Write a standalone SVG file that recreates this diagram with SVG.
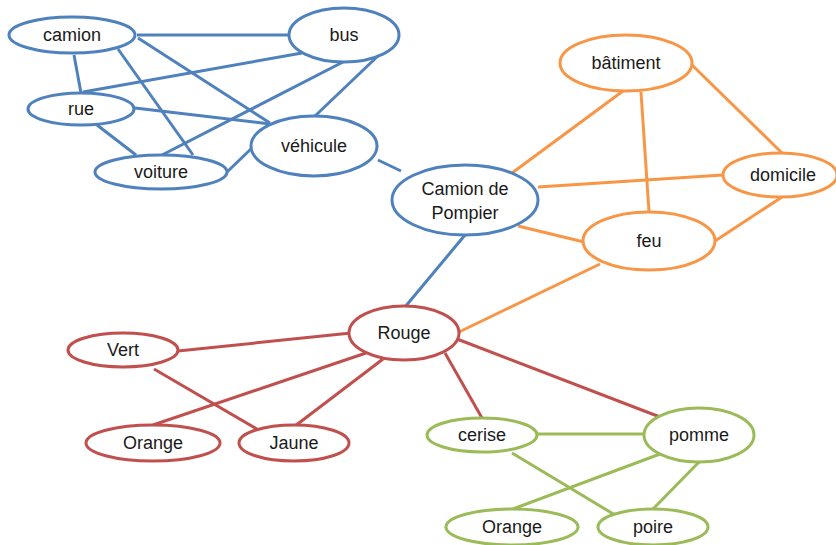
<svg xmlns="http://www.w3.org/2000/svg" width="836" height="545" viewBox="0 0 836 545">
<style>
.n ellipse{fill:#fff;stroke-width:3}
.b ellipse{stroke:#4F81BD}
.o ellipse{stroke:#F79646}
.r ellipse{stroke:#C0504D}
.g ellipse{stroke:#9BBB59}
text{font-family:"Liberation Sans",Arial,sans-serif;font-size:18px;fill:#1a1a1a;text-anchor:middle}
#edges line{stroke-width:3}
.eb{stroke:#4F81BD}.eo{stroke:#F79646}.er{stroke:#C0504D}.eg{stroke:#9BBB59}
</style>
<rect width="836" height="545" fill="#fff"/>
<g id="edges">
<line class="eb" x1="137" y1="35" x2="289" y2="35"/>
<line class="eb" x1="74" y1="55" x2="81" y2="93"/>
<line class="eb" x1="118" y1="49" x2="193" y2="155"/>
<line class="eb" x1="138" y1="38" x2="270" y2="123"/>
<line class="eb" x1="302" y1="53" x2="83" y2="92"/>
<line class="eb" x1="343" y1="62" x2="162" y2="155"/>
<line class="eb" x1="380" y1="54" x2="315" y2="116"/>
<line class="eb" x1="135" y1="108" x2="270" y2="124"/>
<line class="eb" x1="97" y1="125" x2="136" y2="155"/>
<line class="eb" x1="227" y1="172" x2="253" y2="147"/>
<line class="eb" x1="378" y1="160" x2="401" y2="171"/>
<line class="eb" x1="465" y1="235" x2="405" y2="307"/>
<line class="eo" x1="512" y1="173" x2="623" y2="91"/>
<line class="eo" x1="641" y1="92" x2="649" y2="212"/>
<line class="eo" x1="692" y1="65" x2="782" y2="153"/>
<line class="eo" x1="538" y1="187" x2="723" y2="175"/>
<line class="eo" x1="518" y1="226" x2="584" y2="242"/>
<line class="eo" x1="715" y1="241" x2="782" y2="197"/>
<line class="eo" x1="600" y1="264" x2="459" y2="332"/>
<line class="er" x1="351" y1="333" x2="178" y2="351"/>
<line class="er" x1="366" y1="353" x2="153" y2="425"/>
<line class="er" x1="383" y1="359" x2="295" y2="426"/>
<line class="er" x1="154" y1="369" x2="257" y2="429"/>
<line class="er" x1="445" y1="353" x2="482" y2="418"/>
<line class="er" x1="457" y1="339" x2="660" y2="417"/>
<line class="eg" x1="537" y1="434" x2="644" y2="434"/>
<line class="eg" x1="512" y1="453" x2="615" y2="515"/>
<line class="eg" x1="660" y1="454" x2="513" y2="509"/>
<line class="eg" x1="699" y1="462" x2="653" y2="509"/>
</g>
<g id="camion" class="n b"><ellipse cx="72" cy="35" rx="63" ry="18"/><text x="72" y="41">camion</text></g>
<g id="bus" class="n b"><ellipse cx="344" cy="35" rx="55" ry="27"/><text x="344" y="41">bus</text></g>
<g id="rue" class="n b"><ellipse cx="81" cy="109" rx="53" ry="16"/><text x="81" y="115">rue</text></g>
<g id="voiture" class="n b"><ellipse cx="161" cy="172" rx="66" ry="17"/><text x="161" y="178">voiture</text></g>
<g id="vehicule" class="n b"><ellipse cx="314" cy="146" rx="63" ry="30"/><text x="314" y="152">véhicule</text></g>
<g id="camion-pompier" class="n b"><ellipse cx="465" cy="200" rx="73" ry="35"/><text x="465" y="195">Camion de</text><text x="465" y="219">Pompier</text></g>
<g id="batiment" class="n o"><ellipse cx="626" cy="63" rx="66" ry="28"/><text x="626" y="69">bâtiment</text></g>
<g id="domicile" class="n o"><ellipse cx="780" cy="175" rx="57" ry="22"/><text x="783" y="181">domicile</text></g>
<g id="feu" class="n o"><ellipse cx="649" cy="241" rx="66" ry="29"/><text x="649" y="247">feu</text></g>
<g id="rouge" class="n r"><ellipse cx="404" cy="333" rx="55" ry="27"/><text x="404" y="339">Rouge</text></g>
<g id="vert" class="n r"><ellipse cx="123" cy="350" rx="55" ry="17"/><text x="123" y="356">Vert</text></g>
<g id="orange-r" class="n r"><ellipse cx="153" cy="443" rx="67" ry="18"/><text x="153" y="449">Orange</text></g>
<g id="jaune" class="n r"><ellipse cx="294" cy="443" rx="55" ry="18"/><text x="294" y="449">Jaune</text></g>
<g id="cerise" class="n g"><ellipse cx="482" cy="435" rx="55" ry="17"/><text x="482" y="441">cerise</text></g>
<g id="pomme" class="n g"><ellipse cx="699" cy="435" rx="55" ry="27"/><text x="699" y="441">pomme</text></g>
<g id="orange-g" class="n g"><ellipse cx="512" cy="527" rx="66" ry="18"/><text x="512" y="533">Orange</text></g>
<g id="poire" class="n g"><ellipse cx="653" cy="527" rx="55" ry="18"/><text x="653" y="533">poire</text></g>
</svg>
